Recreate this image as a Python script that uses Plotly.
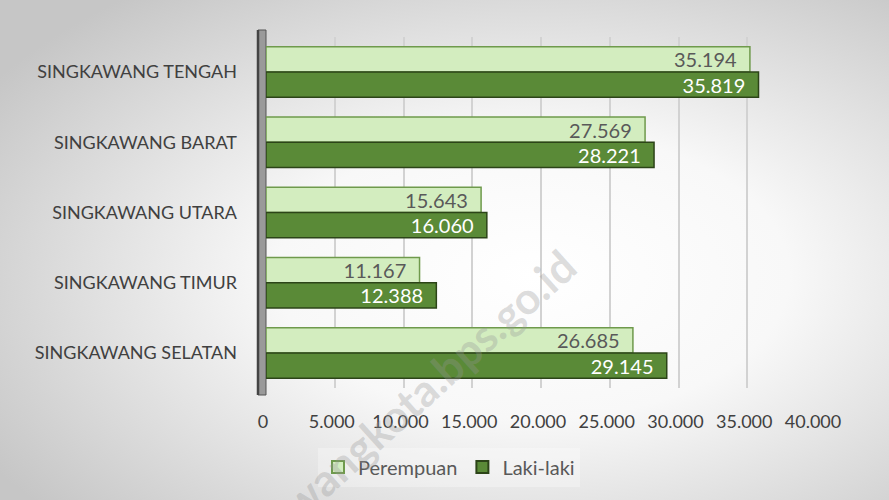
import base64
import plotly.graph_objects as go

categories = ["SINGKAWANG TENGAH", "SINGKAWANG BARAT", "SINGKAWANG UTARA",
              "SINGKAWANG TIMUR", "SINGKAWANG SELATAN"]
perempuan = [35194, 27569, 15643, 11167, 26685]
laki_laki = [35819, 28221, 16060, 12388, 29145]
tick_vals = [0, 5000, 10000, 15000, 20000, 25000, 30000, 35000, 40000]

W, H = 889, 500
ML, MR, MT, MB = 266, 73, 37, 112
PW, PH = W - ML - MR, H - MT - MB

def px(x):
    return (x - ML) / PW

def py(y):
    return (H - MB - y) / PH

svg = ('<svg xmlns="http://www.w3.org/2000/svg" width="889" height="500" preserveAspectRatio="none">'
       '<defs><radialGradient id="g" cx="0.6" cy="0.55" r="0.72">'
       '<stop offset="0" stop-color="#ffffff"/><stop offset="0.4" stop-color="#f8f8f8"/>'
       '<stop offset="1" stop-color="#c6c6c6"/></radialGradient></defs>'
       '<rect width="889" height="500" fill="url(#g)"/></svg>')
bg_uri = "data:image/svg+xml;base64," + base64.b64encode(svg.encode()).decode()

font = "Lato, 'Open Sans', sans-serif"
pad = "\u00a0\u00a0"

fig = go.Figure()
fig.add_trace(go.Bar(
    y=categories, x=perempuan, name="Perempuan", orientation="h",
    marker=dict(color="#d3edbf", line=dict(color="#6f9a4c", width=1.5)),
    texttemplate="%{x:,d}" + pad, textposition="inside", insidetextanchor="end",
    constraintext="none",
    textfont=dict(color="#595959", size=20, family=font),
))
fig.add_trace(go.Bar(
    y=categories, x=laki_laki, name="Laki-laki", orientation="h",
    marker=dict(color="#5a8a37", line=dict(color="#2c4418", width=1.5)),
    texttemplate="%{x:,d}" + pad, textposition="inside", insidetextanchor="end",
    constraintext="none",
    textfont=dict(color="#ffffff", size=20, family=font),
))

fig.update_layout(
    width=W, height=H,
    margin=dict(l=ML, r=MR, t=MT, b=MB),
    paper_bgcolor="#eeeeee", plot_bgcolor="rgba(0,0,0,0)",
    separators=",.",
    barmode="group", bargap=0.28, bargroupgap=0,
    font=dict(family=font, color="#404040", size=15),
    images=[dict(source=bg_uri, xref="paper", yref="paper", x=px(0), y=py(0),
                 sizex=W / PW, sizey=H / PH, xanchor="left", yanchor="top",
                 layer="below", sizing="stretch")],
    showlegend=True,
    legend=dict(orientation="h", x=px(449), xanchor="center", y=py(467), yanchor="middle",
                font=dict(size=20, color="#595959", family=font),
                bgcolor="rgba(255,255,255,0.3)", traceorder="normal",
                itemwidth=30, itemsizing="constant"),
    xaxis=dict(range=[0, 40000], tickvals=tick_vals, tickformat=",d",
               showgrid=True, gridcolor="#d2d2d2", gridwidth=1.5,
               zeroline=False, showline=False, ticklabelstandoff=21,
               ticklabelshift=-3, automargin=False,
               tickfont=dict(size=18, color="#404040", family=font)),
    yaxis=dict(autorange="reversed", showgrid=False, showline=False,
               ticklabelstandoff=28, automargin=False,
               tickfont=dict(size=18, color="#404040", family=font)),
    shapes=[
        dict(type="rect", xref="paper", yref="paper", x0=px(258), x1=px(266),
             y0=py(395), y1=py(30), fillcolor="#9a9a9a", line=dict(color="#555555", width=1),
             layer="below"),
        dict(type="line", xref="paper", yref="paper", x0=px(258), x1=px(258),
             y0=py(395), y1=py(30), line=dict(color="#444444", width=2.5), layer="below"),
    ],
    annotations=[dict(text="<b>singkawangkota.bps.go.id</b>", x=px(382), y=py(426),
                      xref="paper", yref="paper", xanchor="center", yanchor="middle",
                      showarrow=False, textangle=-42,
                      font=dict(size=44, color="rgba(150,150,150,0.33)", family=font))],
)
fig.write_html("out.html", config={"displayModeBar": False},
               post_script="document.body.style.margin='0';")
